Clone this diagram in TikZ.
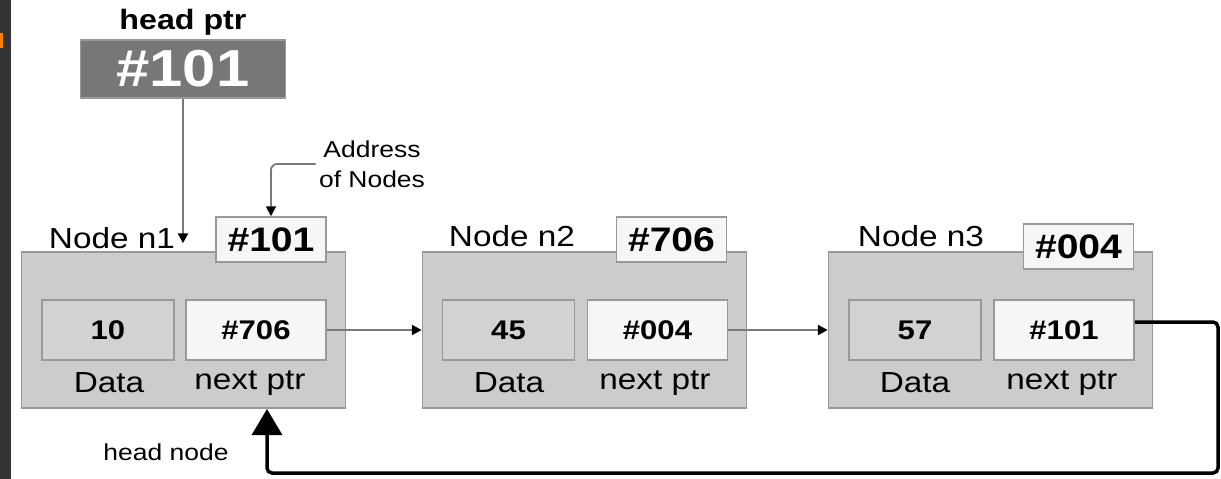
\documentclass[tikz,border=0pt]{standalone}
\usepackage{fontspec}
\setmainfont[FakeStretch=1.15]{Liberation Sans}
\usetikzlibrary{arrows.meta}
\definecolor{boxgray}{HTML}{CCCCCC}
\definecolor{cellgray}{HTML}{D2D2D2}
\definecolor{cellwhite}{HTML}{F6F6F6}
\definecolor{edgegray}{HTML}{999999}
\definecolor{headgray}{HTML}{777777}
\definecolor{linkgray}{HTML}{7A7A7A}
\definecolor{stripgray}{HTML}{333333}
\begin{document}
\begin{tikzpicture}[x=1pt, y=-1pt,
        outer/.style={draw=edgegray, fill=boxgray, line width=1.5pt, inner sep=0pt, minimum width=324pt, minimum height=156pt},
        cell/.style={draw=edgegray, line width=1.5pt, inner sep=0pt, minimum height=60pt, font=\fontsize{27}{30}\selectfont\bfseries},
        datacell/.style={cell, fill=cellgray, minimum width=132pt},
        ptrcell/.style={cell, fill=cellwhite, minimum width=140pt},
        addr/.style={draw=edgegray, fill=cellwhite, line width=1.5pt, inner sep=0pt, minimum width=110pt, minimum height=45pt, font=\fontsize{34}{36}\selectfont\bfseries},
        lbl/.style={font=\fontsize{29}{32}\selectfont},
        small/.style={font=\fontsize{23}{30}\selectfont, align=center},
        link/.style={draw=linkgray, line width=2.5pt, -{Triangle[length=10pt, width=10pt, color=black]}},
        back/.style={draw=black, line width=3.5pt, rounded corners=5pt, -{Triangle[length=26pt, width=30pt]}}
    ]
    \useasboundingbox (0,0) rectangle (1221,479);
    \fill[white] (0,0) rectangle (1221,479);
    \fill[stripgray] (0,0) rectangle (11,479);
    \fill[orange] (0,33) rectangle (3,48);

    % head pointer
    \node (hlbl) [lbl, font=\fontsize{28}{30}\selectfont\bfseries] at (183,22) {head ptr};
    \node (head) [draw=edgegray, fill=headgray, line width=1.5pt, inner sep=0pt, minimum width=205pt, minimum height=58pt,
        text=white, font=\fontsize{52}{54}\selectfont\bfseries] at (183,69) {\#101};

    % list nodes
    \node (n1) [outer] at (183.5,330) {};
    \node (n2) [outer] at (584.5,330) {};
    \node (n3) [outer] at (990.5,330) {};

    \node (d1) [datacell] at (108,330) {10};
    \node (p1) [ptrcell] at (256,330) {\#706};
    \node (d2) [datacell] at (508.5,330) {45};
    \node (p2) [ptrcell] at (657.5,330) {\#004};
    \node (d3) [datacell] at (915,330) {57};
    \node (p3) [ptrcell] at (1064,330) {\#101};

    \node (t1) [lbl] at (109,383) {Data};
    \node (q1) [lbl] at (250,383) {next ptr};
    \node (t2) [lbl] at (509,383) {Data};
    \node (q2) [lbl] at (655,383) {next ptr};
    \node (t3) [lbl] at (915,383) {Data};
    \node (q3) [lbl] at (1062,383) {next ptr};

    \node (l1) [lbl] at (112,238) {Node n1};
    \node (l2) [lbl] at (512,236) {Node n2};
    \node (l3) [lbl] at (921,236) {Node n3};

    \node (a1) [addr] at (271,239.5) {\#101};
    \node (a2) [addr] at (671.5,239.5) {\#706};
    \node (a3) [addr] at (1078.5,246.5) {\#004};

    \node (note) [small] at (372,164) {Address\\of Nodes};
    \node (hnode) [small] at (166,452) {head node};
    \coordinate (turn) at (1218,473);
    \coordinate (hn) at (267,409);

    % pointers
    \draw[link] (head.south) -- (head.south |- n1.north) [shorten >=8pt];
    \draw[link, line width=1.8pt, rounded corners=6pt] (note.west) -| (a1.north);
    \draw[link] (p1.east) -- (n2.west);
    \draw[link] (p2.east) -- (n3.west);
    \draw[back] ([yshift=8pt]p3.east) -| (turn) -| (hn);
\end{tikzpicture}
\end{document}
